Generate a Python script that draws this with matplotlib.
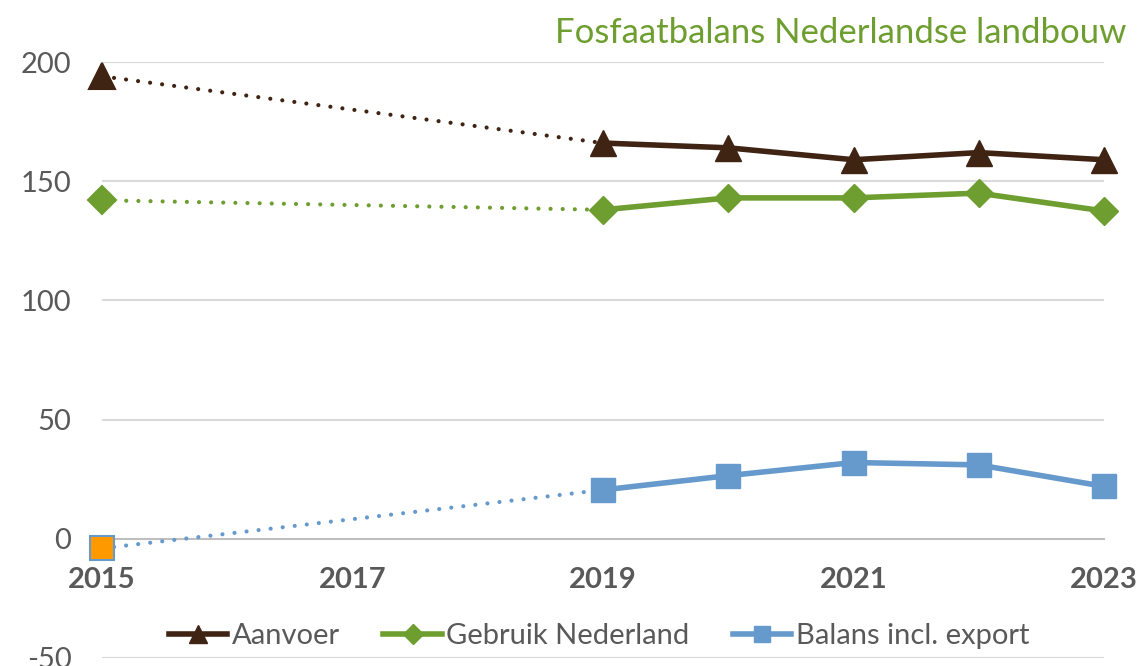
import matplotlib
matplotlib.use("Agg")
import matplotlib.pyplot as plt
from matplotlib.lines import Line2D

plt.rcParams['font.family'] = ['Lato', 'DejaVu Sans']

years = [2015, 2019, 2020, 2021, 2022, 2023]
aanvoer = [194, 166, 164, 159, 162, 159]
gebruik = [142, 138, 143, 143, 145, 137.5]
balans = [-4, 20.5, 26.5, 32, 31, 22]
series_names = ["Aanvoer", "Gebruik Nederland", "Balans incl. export"]
xtick_years = [2015, 2017, 2019, 2021, 2023]
ytick_vals = [-50, 0, 50, 100, 150, 200]
title = "Fosfaatbalans Nederlandse landbouw"

c_brown = "#3F2313"
c_green = "#6E9E2F"
c_blue = "#6699CC"
c_orange = "#FF9900"
c_text = "#595959"

fig = plt.figure(figsize=(11.4, 6.66), dpi=100)
ax = fig.add_axes([102/1140, 1-658/666, (1104-102)/1140, (658-62)/666])
ax.set_xlim(2015, 2023)
ax.set_ylim(-50, 200)

for v in ytick_vals:
    if v != 0:
        ax.axhline(v, color="#D9D9D9", lw=1.5, zorder=0)

for s in ['top', 'right', 'left']:
    ax.spines[s].set_visible(False)
ax.spines['bottom'].set_position(('data', 0))
ax.spines['bottom'].set_color("#BFBFBF")
ax.spines['bottom'].set_linewidth(1.5)
ax.spines['bottom'].set_zorder(0)

ax.set_yticks(ytick_vals)
ax.set_yticklabels([str(v) for v in ytick_vals])
ax.tick_params(axis='y', length=0, pad=22, labelsize=21, labelcolor=c_text)
ax.set_xticks(xtick_years)
ax.set_xticklabels([str(y) for y in xtick_years], fontweight='bold')
ax.tick_params(axis='x', length=0, pad=20, labelsize=21, labelcolor=c_text)

dot = (0, (0.01, 2.9))
specs = [
    (aanvoer, c_brown, '^', 19),
    (gebruik, c_green, 'D', 14),
    (balans, c_blue, 's', 17),
]
for vals, col, mk, ms in specs:
    ax.plot(years[:2], vals[:2], color=col, lw=3, linestyle=dot,
            dash_capstyle='round', zorder=3, clip_on=False)
    ax.plot(years[1:], vals[1:], color=col, lw=4, solid_capstyle='round',
            zorder=4, clip_on=False)
    ax.plot(years[1:], vals[1:], linestyle='none', marker=mk, ms=ms,
            color=col, zorder=5, clip_on=False)
    face = c_orange if mk == 's' else col
    ax.plot(years[:1], vals[:1], linestyle='none', marker=mk, ms=ms,
            markerfacecolor=face, markeredgecolor=col, markeredgewidth=1.5,
            zorder=5, clip_on=False)

handles = [
    Line2D([0], [0], color=c_brown, lw=4, marker='^', ms=13),
    Line2D([0], [0], color=c_green, lw=4, marker='D', ms=10),
    Line2D([0], [0], color=c_blue, lw=4, marker='s', ms=12),
]
fig.legend(handles, series_names, loc='center', bbox_to_anchor=(599/1140, 1-636/666),
           ncol=3, frameon=False, fontsize=21, labelcolor=c_text,
           handlelength=2.0, handletextpad=0.15, columnspacing=1.5)

fig.text(1126/1140, 1-33/666, title, ha='right', va='center', fontsize=25,
         color=c_green)

fig.savefig("out.png", dpi=100)
